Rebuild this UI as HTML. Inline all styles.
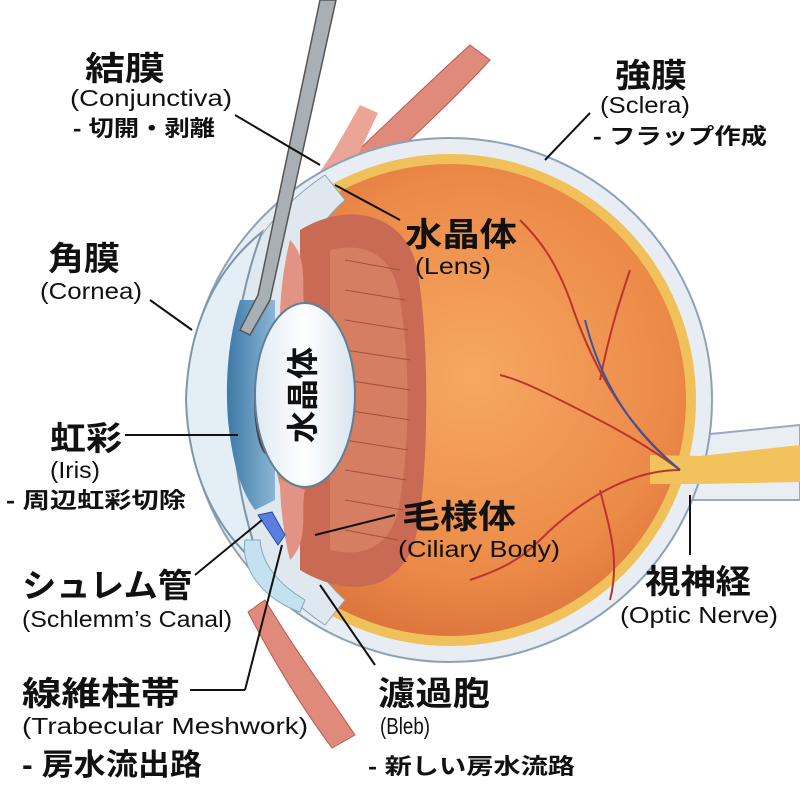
<!DOCTYPE html>
<html><head><meta charset="utf-8"><style>
body{margin:0;background:#fff}
svg{display:block}
text{font-family:"Liberation Sans","Noto Sans CJK JP",sans-serif;fill:#111}
.b{font-size:33px;font-weight:bold}
.s{font-size:23px}
.m{font-size:22px;font-weight:bold}
</style></head><body>
<svg width="800" height="800" viewBox="0 0 800 800" xmlns="http://www.w3.org/2000/svg">
<defs>
<radialGradient id="og" cx="0.55" cy="0.45" r="0.6">
<stop offset="0" stop-color="#f6a862"/><stop offset="0.7" stop-color="#ec8a48"/><stop offset="1" stop-color="#d9703a"/>
</radialGradient>
<linearGradient id="lens" x1="0" x2="1"><stop offset="0" stop-color="#dfe9f2"/><stop offset="0.5" stop-color="#fff"/><stop offset="1" stop-color="#d8e4ee"/></linearGradient>
<linearGradient id="iris" x1="0" x2="1"><stop offset="0" stop-color="#3d79a8"/><stop offset="1" stop-color="#8bb6d4"/></linearGradient>
</defs>
<path d="M300 205 C360 150 420 90 470 45 L490 60 C440 115 380 165 330 220 Z" fill="#e08a7c" stroke="#b85a50"/>
<path d="M290 205 C320 180 340 140 360 105 L378 113 C360 150 345 190 312 218 Z" fill="#eaa596"/>
<path d="M265 600 C295 650 325 690 355 735 L332 748 C300 705 272 658 248 612 Z" fill="#e08a7c" stroke="#b85a50"/>
<path d="M650 440 L800 425 L800 500 L650 500 Z" fill="#e9eef3" stroke="#9aaabb" stroke-width="2"/>
<circle cx="450" cy="400" r="262" fill="#e7edf2" stroke="#8da2b6" stroke-width="2"/>
<circle cx="450" cy="400" r="246" fill="#f0c15a"/>
<circle cx="450" cy="400" r="236" fill="url(#og)"/>
<path d="M650 455 L700 456 L800 445 L800 482 L700 484 L650 484Z" fill="#f2c25c"/>
<g stroke="#b8362c" stroke-width="2" fill="none">
<path d="M680 470 C620 420 590 360 570 300 C555 260 540 240 520 220"/>
<path d="M680 470 C630 470 580 500 540 540 C520 560 500 570 470 580"/>
<path d="M680 470 C640 440 600 420 560 400 C540 390 520 380 500 375"/>
<path d="M600 380 C610 330 620 300 630 270"/>
<path d="M600 490 C610 530 620 560 610 600"/>
</g>
<path d="M680 470 C630 430 600 380 585 320" stroke="#3a55a0" stroke-width="2" fill="none"/>
<path d="M325 175 C250 225 212 305 205 400 C212 495 250 575 325 625 L345 600 C300 560 272 490 268 400 C272 310 300 240 345 200Z" fill="#dfe8ef" stroke="#8da2b6"/>
<path d="M262 232 C212 272 188 332 186 400 C188 468 212 528 262 568 C244 520 232 460 232 400 C232 340 244 280 262 232Z" fill="#e4eef5" stroke="#7e96ab" stroke-width="2"/>
<path d="M300 230 C350 200 400 215 415 260 C430 320 430 480 415 540 C400 590 350 600 300 570 Z" fill="#c96a55"/>
<path d="M330 250 C370 240 395 260 400 300 C410 360 410 440 400 500 C395 540 370 560 330 550 Z" fill="#d67e62"/>
<g stroke="#a3503e" stroke-width="1">
<path d="M345 260 L400 270 M345 290 L405 300 M345 320 L408 330 M345 350 L410 360 M345 380 L410 390 M345 410 L410 420 M345 440 L408 450 M345 470 L406 480 M345 500 L403 510 M345 530 L398 540"/>
</g>
<path d="M290 240 C310 260 300 290 305 310 L280 320 C280 290 285 260 290 240Z" fill="#e39384"/>
<path d="M290 560 C310 540 300 510 305 490 L280 480 C280 510 285 540 290 560Z" fill="#e39384"/>
<path d="M240 300 C228 340 225 380 228 420 C232 460 240 490 255 510 L275 500 L275 300 Z" fill="url(#iris)"/>
<ellipse cx="268" cy="400" rx="14" ry="55" fill="#444"/>
<ellipse cx="305" cy="395" rx="50" ry="92" fill="url(#lens)" stroke="#5f7f99" stroke-width="2"/>
<text class="b" transform="translate(314,395) rotate(-90)" text-anchor="middle" style="font-size:32px">水晶体</text>
<path d="M258 515 L272 512 L285 535 L278 545Z" fill="#5a7ee0" stroke="#2d4aa0"/>
<path d="M245 540 C240 570 265 600 300 612 L305 600 C280 585 262 565 260 540Z" fill="#c4e1ef" stroke="#7fa7c0"/>
<path d="M320 0 L336 0 L270 300 L250 335 L240 330 L258 295 Z" fill="#a9b0b5" stroke="#555" stroke-width="1.5"/>
<g stroke="#111" stroke-width="2" fill="none">
<line x1="235" y1="115" x2="320" y2="165"/>
<line x1="590" y1="113" x2="545" y2="160"/>
<line x1="400" y1="220" x2="335" y2="185"/>
<line x1="150" y1="300" x2="192" y2="330"/>
<line x1="125" y1="435" x2="238" y2="435"/>
<line x1="395" y1="515" x2="315" y2="535"/>
<line x1="195" y1="575" x2="262" y2="520"/>
<line x1="190" y1="690" x2="245" y2="690"/>
<line x1="245" y1="690" x2="282" y2="545"/>
<line x1="375" y1="665" x2="320" y2="585"/>
<line x1="690" y1="495" x2="690" y2="555"/>
</g>
<g lengthAdjust="spacingAndGlyphs">
<text class="b" x="85" y="80" textLength="80" lengthAdjust="spacingAndGlyphs">結膜</text>
<text class="s" x="70" y="106" textLength="162" lengthAdjust="spacingAndGlyphs">(Conjunctiva)</text>
<text class="m" x="73" y="136" textLength="142" lengthAdjust="spacingAndGlyphs">- 切開・剥離</text>
<text class="b" x="615" y="87" textLength="72" lengthAdjust="spacingAndGlyphs">強膜</text>
<text class="s" x="600" y="113" textLength="90" lengthAdjust="spacingAndGlyphs">(Sclera)</text>
<text class="m" x="593" y="144" textLength="174" lengthAdjust="spacingAndGlyphs">- フラップ作成</text>
<text class="b" x="405" y="246" textLength="112" lengthAdjust="spacingAndGlyphs">水晶体</text>
<text class="s" x="415" y="274" textLength="76" lengthAdjust="spacingAndGlyphs">(Lens)</text>
<text class="b" x="48" y="270" textLength="72" lengthAdjust="spacingAndGlyphs">角膜</text>
<text class="s" x="40" y="299" textLength="102" lengthAdjust="spacingAndGlyphs">(Cornea)</text>
<text class="b" x="50" y="450" textLength="72" lengthAdjust="spacingAndGlyphs">虹彩</text>
<text class="s" x="50" y="478" textLength="50" lengthAdjust="spacingAndGlyphs">(Iris)</text>
<text class="m" x="6" y="508" textLength="180" lengthAdjust="spacingAndGlyphs">- 周辺虹彩切除</text>
<text class="b" x="402" y="528" textLength="114" lengthAdjust="spacingAndGlyphs">毛様体</text>
<text class="s" x="398" y="557" textLength="162" lengthAdjust="spacingAndGlyphs">(Ciliary Body)</text>
<text class="b" x="22" y="597" textLength="170" lengthAdjust="spacingAndGlyphs">シュレム管</text>
<text class="s" x="22" y="627" textLength="210" lengthAdjust="spacingAndGlyphs">(Schlemm’s Canal)</text>
<text class="b" x="22" y="705" textLength="158" lengthAdjust="spacingAndGlyphs">線維柱帯</text>
<text class="s" x="22" y="734" textLength="286" lengthAdjust="spacingAndGlyphs">(Trabecular Meshwork)</text>
<text class="b" x="22" y="775" textLength="180" lengthAdjust="spacingAndGlyphs" style="font-size:30px">- 房水流出路</text>
<text class="b" x="378" y="705" textLength="112" lengthAdjust="spacingAndGlyphs">濾過胞</text>
<text class="s" x="380" y="734" textLength="50" lengthAdjust="spacingAndGlyphs">(Bleb)</text>
<text class="m" x="368" y="774" textLength="207" lengthAdjust="spacingAndGlyphs">- 新しい房水流路</text>
<text class="b" x="645" y="593" textLength="106" lengthAdjust="spacingAndGlyphs">視神経</text>
<text class="s" x="620" y="623" textLength="158" lengthAdjust="spacingAndGlyphs">(Optic Nerve)</text>
</g>
</svg>
</body></html>
